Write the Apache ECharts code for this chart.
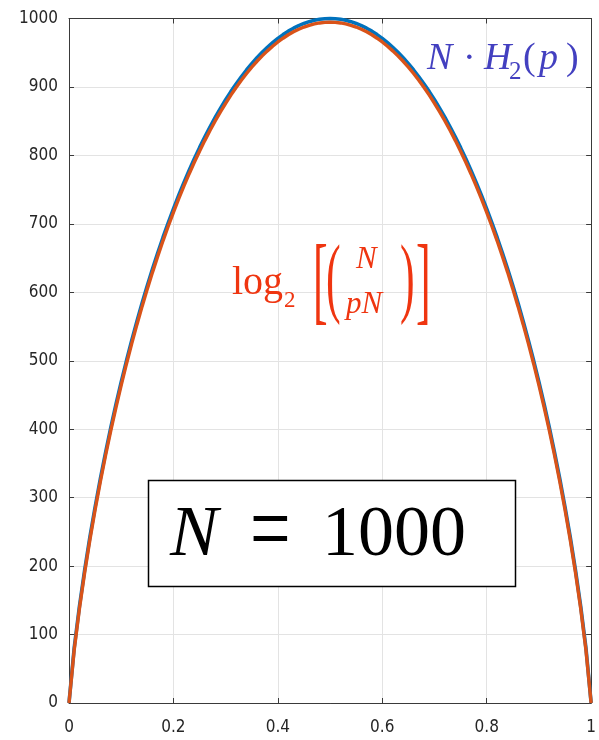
<!DOCTYPE html>
<html>
<head>
<meta charset="utf-8">
<script src="https://cdn.jsdelivr.net/npm/echarts@6/dist/echarts.min.js"></script>
<style>
  html, body { margin: 0; padding: 0; background: #ffffff; }
  #chart { width: 599px; height: 740px; }
</style>
</head>
<body>
<div id="chart"></div>
<script>
// Bit fraction p sampled from 0 to 1
const pValues = [
  0, 0.01, 0.02, 0.03, 0.04, 0.05, 0.06, 0.07, 0.08, 0.09,
  0.10, 0.11, 0.12, 0.13, 0.14, 0.15, 0.16, 0.17, 0.18, 0.19,
  0.20, 0.21, 0.22, 0.23, 0.24, 0.25, 0.26, 0.27, 0.28, 0.29,
  0.30, 0.31, 0.32, 0.33, 0.34, 0.35, 0.36, 0.37, 0.38, 0.39,
  0.40, 0.41, 0.42, 0.43, 0.44, 0.45, 0.46, 0.47, 0.48, 0.49,
  0.50, 0.51, 0.52, 0.53, 0.54, 0.55, 0.56, 0.57, 0.58, 0.59,
  0.60, 0.61, 0.62, 0.63, 0.64, 0.65, 0.66, 0.67, 0.68, 0.69,
  0.70, 0.71, 0.72, 0.73, 0.74, 0.75, 0.76, 0.77, 0.78, 0.79,
  0.80, 0.81, 0.82, 0.83, 0.84, 0.85, 0.86, 0.87, 0.88, 0.89,
  0.90, 0.91, 0.92, 0.93, 0.94, 0.95, 0.96, 0.97, 0.98, 0.99,
  1.00
];

// N * H2(p), N = 1000
const entropyBits = [
  0, 80.8, 141.4, 194.4, 242.3, 286.4, 327.4, 365.9, 402.2, 436.5,
  469.0, 499.9, 529.4, 557.4, 584.2, 609.8, 634.3, 657.7, 680.1, 701.5,
  721.9, 741.5, 760.2, 778.0, 795.0, 811.3, 826.7, 841.5, 855.5, 868.7,
  881.3, 893.2, 904.4, 914.9, 924.8, 934.1, 942.7, 950.7, 958.0, 964.8,
  971.0, 976.5, 981.5, 985.8, 989.6, 992.8, 995.4, 997.4, 998.8, 999.7,
  1000.0, 999.7, 998.8, 997.4, 995.4, 992.8, 989.6, 985.8, 981.5, 976.5,
  971.0, 964.8, 958.0, 950.7, 942.7, 934.1, 924.8, 914.9, 904.4, 893.2,
  881.3, 868.7, 855.5, 841.5, 826.7, 811.3, 795.0, 778.0, 760.2, 741.5,
  721.9, 701.5, 680.1, 657.7, 634.3, 609.8, 584.2, 557.4, 529.4, 499.9,
  469.0, 436.5, 402.2, 365.9, 327.4, 286.4, 242.3, 194.4, 141.4, 80.8,
  0
];

// log2 of the binomial coefficient C(N, pN), N = 1000
const log2Binomial = [
  0, 77.8, 137.9, 190.6, 238.3, 282.3, 323.2, 361.6, 397.8, 432.0,
  464.4, 495.3, 524.7, 552.7, 579.4, 605.0, 629.5, 652.8, 675.2, 696.5,
  716.9, 736.5, 755.2, 772.9, 789.9, 806.2, 821.6, 836.4, 850.3, 863.5,
  876.1, 888.0, 899.2, 909.7, 919.6, 928.9, 937.5, 945.4, 952.7, 959.5,
  965.7, 971.2, 976.2, 980.5, 984.3, 987.5, 990.1, 992.1, 993.5, 994.4,
  994.7, 994.4, 993.5, 992.1, 990.1, 987.5, 984.3, 980.5, 976.2, 971.2,
  965.7, 959.5, 952.7, 945.4, 937.5, 928.9, 919.6, 909.7, 899.2, 888.0,
  876.1, 863.5, 850.3, 836.4, 821.6, 806.2, 789.9, 772.9, 755.2, 736.5,
  716.9, 696.5, 675.2, 652.8, 629.5, 605.0, 579.4, 552.7, 524.7, 495.3,
  464.4, 432.0, 397.8, 361.6, 323.2, 282.3, 238.3, 190.6, 137.9, 77.8,
  0
];

const xTicks = [0, 0.2, 0.4, 0.6, 0.8, 1];
const yTicks = [0, 100, 200, 300, 400, 500, 600, 700, 800, 900, 1000];

const tickFont = '"Liberation Sans Narrow", "Arial Narrow", "DejaVu Sans Condensed", Arial, sans-serif';
const mathFont = '"Liberation Serif", "DejaVu Serif", serif';
const axisColor = '#3a3a3a';
const gridColor = '#e3e3e3';
const blueLabel = '#4340c0';
const redLabel = '#ef3510';

const chart = echarts.init(document.getElementById('chart'), null, { renderer: 'canvas' });

function pairs(ys) {
  return pValues.map((p, i) => [p, ys[i]]);
}

function mathText(text, x, y, size, color, italic, extra) {
  return Object.assign({
    type: 'text',
    x: x,
    y: y,
    z: 100,
    style: {
      text: text,
      fill: color,
      font: (italic ? 'italic ' : '') + size + 'px ' + mathFont,
      textAlign: 'left',
      textVerticalAlign: 'middle'
    }
  }, extra || {});
}

const option = {
  animation: false,
  backgroundColor: '#ffffff',
  grid: { left: 69, right: 4, top: 18.5, bottom: 37, containLabel: false },
  xAxis: [
    {
      type: 'value', min: 0, max: 1, interval: 0.2, position: 'bottom',
      axisLine: { show: true, onZero: false, lineStyle: { color: axisColor, width: 1 } },
      axisTick: { show: true, inside: true, length: 5, lineStyle: { color: axisColor } },
      axisLabel: {
        margin: 16, color: '#262626', fontFamily: tickFont, fontSize: 17,
        formatter: v => {
          const t = xTicks.find(k => Math.abs(k - v) < 1e-9);
          return t === undefined ? '' : String(t);
        }
      },
      splitLine: { show: true, lineStyle: { color: gridColor, width: 1 } }
    },
    {
      type: 'value', min: 0, max: 1, interval: 0.2, position: 'top',
      axisLine: { show: true, onZero: false, lineStyle: { color: axisColor, width: 1 } },
      axisTick: { show: true, inside: true, length: 5, lineStyle: { color: axisColor } },
      axisLabel: { show: false },
      splitLine: { show: false }
    }
  ],
  yAxis: [
    {
      type: 'value', min: 0, max: 1000, interval: 100, position: 'left',
      axisLine: { show: true, onZero: false, lineStyle: { color: axisColor, width: 1 } },
      axisTick: { show: true, inside: true, length: 5, lineStyle: { color: axisColor } },
      axisLabel: {
        margin: 11, color: '#262626', fontFamily: tickFont, fontSize: 17,
        formatter: v => {
          const t = yTicks.find(k => Math.abs(k - v) < 1e-6);
          return t === undefined ? '' : String(t);
        }
      },
      splitLine: { show: true, lineStyle: { color: gridColor, width: 1 } }
    },
    {
      type: 'value', min: 0, max: 1000, interval: 100, position: 'right',
      axisLine: { show: true, onZero: false, lineStyle: { color: axisColor, width: 1 } },
      axisTick: { show: true, inside: true, length: 5, lineStyle: { color: axisColor } },
      axisLabel: { show: false },
      splitLine: { show: false }
    }
  ],
  series: [
    {
      name: 'N·H2(p)',
      type: 'line',
      xAxisIndex: 0, yAxisIndex: 0,
      data: pairs(entropyBits),
      showSymbol: false,
      clip: false,
      lineStyle: { color: '#0072bd', width: 3.6 },
      z: 3
    },
    {
      name: 'log2 C(N,pN)',
      type: 'line',
      xAxisIndex: 0, yAxisIndex: 0,
      data: pairs(log2Binomial),
      showSymbol: false,
      clip: false,
      lineStyle: { color: '#d95319', width: 3.4 },
      z: 4
    }
  ],
  graphic: [
    // N · H2(p)
    mathText('N', 427, 59, 38, blueLabel, true),
    mathText('·', 463, 59, 38, blueLabel, false),
    mathText('H', 484, 59, 38, blueLabel, true),
    mathText('2', 509, 72, 25, blueLabel, false),
    mathText('(', 523, 59, 38, blueLabel, false),
    mathText('p', 539, 59, 38, blueLabel, true),
    mathText(')', 566, 59, 38, blueLabel, false),

    // log2 [ (N over pN) ]
    mathText('log', 232, 283, 40, redLabel, false),
    mathText('2', 284, 301, 23, redLabel, false),
    mathText('[', 313, 286, 44, redLabel, false, { scaleY: 2.22 }),
    mathText('(', 326, 282, 44, redLabel, false, { scaleY: 2.04 }),
    mathText('N', 356, 260, 31, redLabel, true),
    mathText('pN', 346, 305, 31, redLabel, true),
    mathText(')', 400, 282, 44, redLabel, false, { scaleY: 2.04 }),
    mathText(']', 416, 286, 44, redLabel, false, { scaleY: 2.22 }),

    // N = 1000 box
    {
      type: 'rect',
      z: 90,
      shape: { x: 148.5, y: 480.5, width: 367, height: 106 },
      style: { fill: '#ffffff', stroke: '#000000', lineWidth: 1.5 }
    },
    mathText('N', 170, 536, 72, '#000000', true),
    mathText('=', 250, 536, 72, '#000000', false, { scaleY: 1.4 }),
    mathText('1000', 322, 536, 72, '#000000', false)
  ]
};

chart.setOption(option);
</script>
</body>
</html>
